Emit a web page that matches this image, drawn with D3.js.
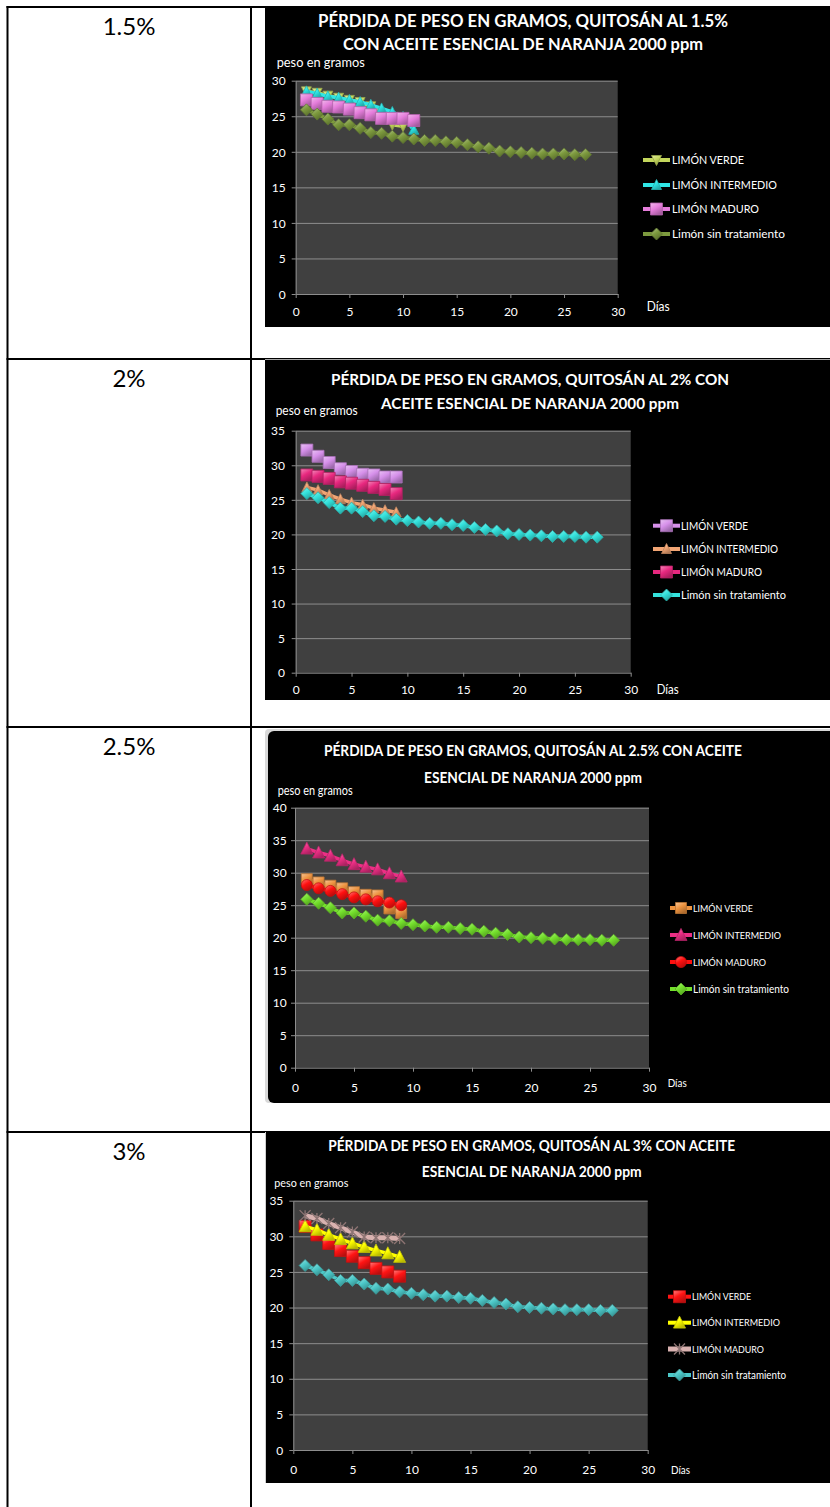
<!DOCTYPE html>
<html>
<head>
<meta charset="utf-8">
<script src="https://cdn.jsdelivr.net/npm/d3@7"></script>
<style>
  html, body { margin: 0; padding: 0; background: #fff; }
  svg { display: block; }
  text { font-family: Lato, "Open Sans", "DejaVu Sans", sans-serif; }
</style>
</head>
<body>
<svg id="page" width="830" height="1507"></svg>
<script>
// ---- data ----------------------------------------------------------------
const rowLabels = ["1.5%", "2%", "2.5%", "3%"];
const seriesNames = ["LIMÓN VERDE", "LIMÓN INTERMEDIO", "LIMÓN MADURO", "Limón sin tratamiento"];
const xTicks = [0, 5, 10, 15, 20, 25, 30];
const yTicks30 = [0, 5, 10, 15, 20, 25, 30];
const yTicks35 = [0, 5, 10, 15, 20, 25, 30, 35];
const yTicks40 = [0, 5, 10, 15, 20, 25, 30, 35, 40];

// untreated control, days 1..27 (same in every panel)
const sinTratamiento = [25.9, 25.3, 24.6, 23.8, 23.8, 23.3, 22.7, 22.6, 22.2, 22.0, 21.8, 21.6, 21.6, 21.4,
  21.3, 21.0, 20.7, 20.5, 20.1, 20.0, 19.9, 19.8, 19.7, 19.7, 19.7, 19.6, 19.6];

// quitosán 1.5 %
const verde15 = [28.5, 28.3, 27.9, 27.6, 27.3, 27.0, 26.4, 25.4, 23.8, 23.6];
const intermedio15 = [28.5, 28.2, 27.8, 27.6, 27.3, 27.0, 26.6, 26.1, 25.6, 24.9, 23.1];
const maduro15 = [27.3, 26.8, 26.4, 26.3, 26.0, 25.5, 25.2, 24.7, 24.7, 24.7, 24.4];

// quitosán 2 %
const verde2 = [32.2, 31.3, 30.4, 29.5, 29.1, 28.7, 28.6, 28.3, 28.3];
const intermedio2 = [26.8, 26.4, 25.7, 25.1, 24.6, 24.3, 23.8, 23.5, 23.2];
const maduro2 = [28.6, 28.4, 28.1, 27.6, 27.4, 27.1, 26.8, 26.5, 25.9];

// quitosán 2.5 %
const verde25 = [29.0, 28.5, 28.0, 27.6, 27.0, 26.6, 26.5, 24.5, 23.8];
const intermedio25 = [33.7, 33.1, 32.6, 31.9, 31.3, 30.9, 30.5, 29.9, 29.4];
const maduro25 = [28.1, 27.6, 27.2, 26.7, 26.2, 25.9, 25.6, 25.4, 25.0];

// quitosán 3 %
const verde3 = [31.4, 30.2, 29.0, 28.0, 27.2, 26.3, 25.5, 25.0, 24.4];
const intermedio3 = [31.4, 30.9, 30.2, 29.6, 29.0, 28.5, 28.0, 27.6, 27.1];
const maduro3 = [32.9, 32.5, 31.8, 31.2, 30.6, 29.9, 29.8, 29.8, 29.7];

// ---- marker shapes -------------------------------------------------------
const shapes = {
  square: s => `M${-s/2},${-s/2}h${s}v${s}h${-s}Z`,
  diamond: s => `M0,${-s/2}L${s/2},0L0,${s/2}L${-s/2},0Z`,
  triUp: s => `M0,${-s*0.55}L${s/2},${s*0.45}L${-s/2},${s*0.45}Z`,
  triDown: s => `M0,${s*0.55}L${s/2},${-s*0.45}L${-s/2},${-s*0.45}Z`,
  circle: s => `M${s/2},0A${s/2},${s/2} 0 1,1 ${-s/2},0A${s/2},${s/2} 0 1,1 ${s/2},0Z`,
  cross: s => `M${-s/2},${-s/2}L${s/2},${s/2}M${s/2},${-s/2}L${-s/2},${s/2}M0,${-s/2}L0,${s/2}`
};

// ---- panels --------------------------------------------------------------
const panels = [
  {
    bg: {x: 265, y: 6, w: 565, h: 321},
    plot: {x0: 295.7, x1: 617.7, yTop: 80.7, yBot: 294},
    yMax: 30, yTicks: yTicks30,
    title: [
      {t: "PÉRDIDA DE PESO EN GRAMOS, QUITOSÁN AL 1.5%", y: 26.5, w: 410},
      {t: "CON ACEITE ESENCIAL DE NARANJA 2000 ppm", y: 50, w: 360}
    ], titleX: 523,
    yTitle: {x: 276.7, y: 66.5, w: 88}, yTickX: 285.7, xTickY: 316, dias: {x: 646.7, y: 311, w: 23},
    legend: {x0: 643, x1: 670, tx: 672, ys: [160, 185, 209, 234], widths: [72, 105, 87, 113]},
    series: [
      {v: verde15, color: "#c3d65c", shape: "triDown", size: 10},
      {v: intermedio15, color: "#2fe6e6", shape: "triUp", size: 10},
      {v: maduro15, color: "#e57ddb", shape: "square", size: 12},
      {v: sinTratamiento, color: "#7d9a3e", shape: "diamond", size: 12}
    ]
  },
  {
    bg: {x: 265, y: 360, w: 565, h: 340},
    plot: {x0: 295.7, x1: 630.7, yTop: 430.7, yBot: 672.7},
    yMax: 35, yTicks: yTicks35,
    title: [
      {t: "PÉRDIDA DE PESO EN GRAMOS, QUITOSÁN AL 2% CON", y: 385, w: 398},
      {t: "ACEITE ESENCIAL DE NARANJA 2000 ppm", y: 409, w: 298}
    ], titleX: 530,
    yTitle: {x: 275.7, y: 415, w: 82}, yTickX: 285, xTickY: 694, dias: {x: 656.7, y: 694, w: 22},
    legend: {x0: 653, x1: 680, tx: 681, ys: [525.7, 549, 572, 595], widths: [67, 97, 81, 105]},
    series: [
      {v: verde2, color: "#d690ea", shape: "square", size: 12},
      {v: intermedio2, color: "#f2a574", shape: "triUp", size: 10},
      {v: maduro2, color: "#e8287f", shape: "square", size: 12},
      {v: sinTratamiento, color: "#34e2dc", shape: "diamond", size: 12}
    ]
  },
  {
    bg: {x: 268, y: 731, w: 562, h: 372}, frame: true,
    plot: {x0: 295, x1: 649, yTop: 807.7, yBot: 1067.7},
    yMax: 40, yTicks: yTicks40,
    title: [
      {t: "PÉRDIDA DE PESO EN GRAMOS, QUITOSÁN AL 2.5% CON ACEITE", y: 756, w: 418},
      {t: "ESENCIAL DE NARANJA 2000 ppm", y: 782.5, w: 218}
    ], titleX: 533,
    yTitle: {x: 277.7, y: 795, w: 75}, yTickX: 286.7, xTickY: 1092, dias: {x: 667.7, y: 1087, w: 19},
    legend: {x0: 670, x1: 692, tx: 693, ys: [908, 935, 962, 989], widths: [60, 88, 73, 96]},
    series: [
      {v: verde25, color: "#ee9440", shape: "square", size: 11},
      {v: intermedio25, color: "#ec2f85", shape: "triUp", size: 12},
      {v: maduro25, color: "#ff1010", shape: "circle", size: 11},
      {v: sinTratamiento, color: "#74e02c", shape: "diamond", size: 12}
    ]
  },
  {
    bg: {x: 266, y: 1132, w: 564, h: 351}, leftEdge: true,
    plot: {x0: 293.3, x1: 647.7, yTop: 1200.7, yBot: 1450},
    yMax: 35, yTicks: yTicks35,
    title: [
      {t: "PÉRDIDA DE PESO EN GRAMOS, QUITOSÁN AL 3% CON ACEITE", y: 1150.7, w: 407},
      {t: "ESENCIAL DE NARANJA 2000 ppm", y: 1176.7, w: 220}
    ], titleX: 531.7,
    yTitle: {x: 274.3, y: 1186.7, w: 74}, yTickX: 283.3, xTickY: 1473.5, dias: {x: 671, y: 1473.5, w: 19},
    legend: {x0: 668, x1: 691, tx: 692, ys: [1296.7, 1322.7, 1349, 1375], widths: [59, 88, 72, 94]},
    series: [
      {v: verde3, color: "#ff1414", shape: "square", size: 12},
      {v: intermedio3, color: "#ffff00", shape: "triUp", size: 12},
      {v: maduro3, color: "#d9b2b0", shape: "cross", size: 11, lw: 5},
      {v: sinTratamiento, color: "#4cc8c8", shape: "diamond", size: 12}
    ]
  }
];

const svg = d3.select("#page");
const defs = svg.append("defs");

// ---- table frame ---------------------------------------------------------
const rowTops = [7, 359, 727, 1132];
const table = svg.append("g").attr("class", "table");
rowTops.forEach(y => table.append("rect").attr("x", 6.5).attr("y", y - 1).attr("width", 830).attr("height", 2).attr("fill", "#000"));
table.append("rect").attr("x", 6.5).attr("y", 6).attr("width", 2).attr("height", 1501).attr("fill", "#000");
table.append("rect").attr("x", 250).attr("y", 6).attr("width", 2).attr("height", 1501).attr("fill", "#000");

rowLabels.forEach((lab, i) => {
  table.append("text")
    .attr("x", 129).attr("y", rowTops[i] + 27.5)
    .attr("text-anchor", "middle")
    .attr("font-size", 24)
    .attr("fill", "#000")
    .text(lab);
});

// ---- helpers -------------------------------------------------------------
function gradientFor(color, id) {
  const c = d3.color(color);
  const g = defs.append("linearGradient").attr("id", id)
    .attr("x1", 0).attr("y1", 0).attr("x2", 0.6).attr("y2", 1);
  g.append("stop").attr("offset", 0).attr("stop-color", d3.interpolateRgb(c, "#fff")(0.45));
  g.append("stop").attr("offset", 0.5).attr("stop-color", c.formatHex());
  g.append("stop").attr("offset", 1).attr("stop-color", c.darker(0.9).formatHex());
  return `url(#${id})`;
}

function drawMarker(sel, s, fillUrl, ser) {
  if (s.shape === "cross") {
    sel.attr("d", shapes.cross(s.size)).attr("fill", "none")
      .attr("stroke", d3.color(ser).darker(1.2)).attr("stroke-width", 1.3);
  } else {
    sel.attr("d", shapes[s.shape](s.size)).attr("fill", fillUrl)
      .attr("stroke", d3.color(ser).darker(0.7)).attr("stroke-width", 0.8);
  }
}

// Writes a text at a font size close to what fits the target width
// (allowing some horizontal squeeze), then pins it to that width.
function fitText(g, str, x, y, width, maxSize, anchor, weight, squeeze) {
  const t = g.append("text").attr("x", x).attr("y", y)
    .attr("text-anchor", anchor).attr("fill", "#fff")
    .attr("font-weight", weight).attr("font-size", maxSize).text(str);
  const natural = t.node().getComputedTextLength();
  const size = Math.min(maxSize, maxSize * width / natural * squeeze);
  t.attr("font-size", size);
  t.attr("textLength", width).attr("lengthAdjust", "spacingAndGlyphs");
  return t;
}

// ---- charts --------------------------------------------------------------
panels.forEach((p, pi) => {
  const g = svg.append("g").attr("class", "panel");

  if (p.frame) {
    g.append("rect").attr("x", 265).attr("y", 729).attr("width", 570).attr("height", 374)
      .attr("rx", 4).attr("fill", "#d9d9d9");
    g.append("rect").attr("x", p.bg.x).attr("y", p.bg.y).attr("width", p.bg.w + 10).attr("height", p.bg.h)
      .attr("rx", 6).attr("fill", "#000");
  } else {
    if (p.leftEdge) g.append("rect").attr("x", 265).attr("y", p.bg.y).attr("width", 1).attr("height", p.bg.h).attr("fill", "#cfcfcf");
    if (pi === 1) g.append("rect").attr("x", 265).attr("y", 359).attr("width", 565).attr("height", 1).attr("fill", "#a6a6a6");
    g.append("rect").attr("x", p.bg.x).attr("y", p.bg.y).attr("width", p.bg.w).attr("height", p.bg.h).attr("fill", "#000");
  }

  const x = d3.scaleLinear().domain([0, 30]).range([p.plot.x0, p.plot.x1]);
  const y = d3.scaleLinear().domain([0, p.yMax]).range([p.plot.yBot, p.plot.yTop]);

  // plot area
  g.append("rect").attr("x", p.plot.x0).attr("y", p.plot.yTop)
    .attr("width", p.plot.x1 - p.plot.x0).attr("height", p.plot.yBot - p.plot.yTop)
    .attr("fill", "#404040");

  // gridlines
  g.append("g").attr("transform", `translate(${p.plot.x0},0)`)
    .call(d3.axisLeft(y).tickValues(p.yTicks.filter(t => t > 0)).tickSize(-(p.plot.x1 - p.plot.x0)).tickFormat(""))
    .call(a => a.select(".domain").remove())
    .call(a => a.selectAll("line").attr("stroke", "#8d8d8d").attr("stroke-width", 1));

  // y axis
  const ya = g.append("g").attr("transform", `translate(${p.plot.x0},0)`)
    .call(d3.axisLeft(y).tickValues(p.yTicks).tickSize(4).tickSizeOuter(0).tickPadding(0));
  ya.select(".domain").attr("stroke", "#8d8d8d");
  ya.selectAll("line").attr("stroke", "#8d8d8d");
  ya.selectAll("text").attr("x", p.yTickX - p.plot.x0).attr("dy", "0.35em")
    .attr("fill", "#fff").attr("font-size", 12).attr("font-family", "Lato, sans-serif");

  // x axis
  const xa = g.append("g").attr("transform", `translate(0,${p.plot.yBot})`)
    .call(d3.axisBottom(x).tickValues(xTicks).tickSize(4).tickSizeOuter(0));
  xa.select(".domain").attr("stroke", "#8d8d8d");
  xa.selectAll("line").attr("stroke", "#8d8d8d");
  xa.selectAll("text").attr("y", p.xTickY - p.plot.yBot).attr("dy", 0)
    .attr("fill", "#fff").attr("font-size", 12).attr("font-family", "Lato, sans-serif");

  // titles
  p.title.forEach(l => fitText(g, l.t, p.titleX, l.y, l.w, 17.5, "middle", "bold", 1.04));
  fitText(g, "peso en gramos", p.yTitle.x, p.yTitle.y, p.yTitle.w, 13, "start", "normal", 1.15);
  fitText(g, "Días", p.dias.x, p.dias.y, p.dias.w, 13.5, "start", "normal", 1.2);

  // series
  const line = d3.line().x((d, i) => x(i + 1)).y(d => y(d));
  p.series.forEach((s, si) => {
    const fillUrl = gradientFor(s.color, `grad-${pi}-${si}`);
    const sg = g.append("g");
    sg.append("path").datum(s.v).attr("d", line)
      .attr("fill", "none").attr("stroke", s.color).attr("stroke-width", s.lw || 3.5)
      .attr("stroke-linejoin", "round");
    sg.selectAll("path.m").data(s.v).join("path").attr("class", "m")
      .attr("transform", (d, i) => `translate(${x(i + 1)},${y(d)})`)
      .call(sel => drawMarker(sel, s, fillUrl, s.color));

    // legend entry
    const ly = p.legend.ys[si];
    g.append("line").attr("x1", p.legend.x0).attr("x2", p.legend.x1).attr("y1", ly).attr("y2", ly)
      .attr("stroke", s.color).attr("stroke-width", s.lw || 4);
    g.append("path").attr("transform", `translate(${(p.legend.x0 + p.legend.x1) / 2},${ly})`)
      .call(sel => drawMarker(sel, s, fillUrl, s.color));
    const lt = fitText(g, seriesNames[si], p.legend.tx, ly, p.legend.widths[si], 12, "start", "normal", 1.12);
    lt.attr("dy", "0.36em");
  });
});
</script>
</body>
</html>
